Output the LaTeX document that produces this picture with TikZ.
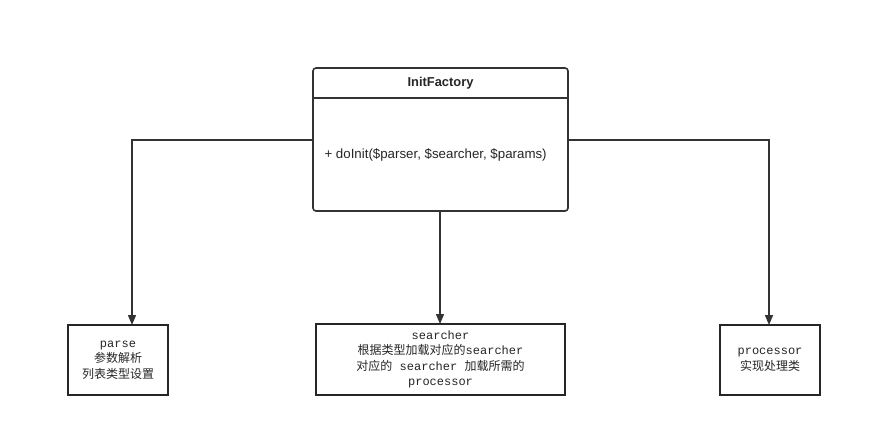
\documentclass[tikz,border=0pt]{standalone}
\usepackage{fontspec}
\setmainfont{Liberation Sans}
\setmonofont{Liberation Mono}
\newfontfamily\cjk{Noto Sans CJK SC}
\usetikzlibrary{arrows.meta}
\begin{document}
\begin{tikzpicture}[x=1pt,y=-1pt,
  line/.style={draw=black!80, line width=1.6pt},
  conn/.style={draw=black!80, line width=1.4pt, -{Triangle[length=10pt,width=8pt]}},
  plainbox/.style={draw=black!85, line width=1.6pt, fill=white, inner sep=0pt},
  boxtext/.style={align=center, font=\ttfamily\fontsize{12}{15.5}\selectfont, text=black!85}]
\useasboundingbox[fill=white] (0,0) rectangle (872,447);
% class box
\draw[line, rounded corners=3pt, fill=white] (313,68) rectangle (568,211);
\draw[line] (313,98) -- (568,98);
\node[font=\bfseries\fontsize{12.9}{15}\selectfont, text=black!85] (title) at (440.5,83) {InitFactory};
\node[anchor=west, font=\fontsize{13.3}{15}\selectfont, text=black!85] (method) at (321,155) {+ doInit(\$parser, \$searcher, \$params)};
\coordinate (cl) at (313,140);
\coordinate (cr) at (568,140);
\coordinate (cb) at (440,211);
% boxes
\node[plainbox, minimum width=100pt, minimum height=70pt] (parse) at (118,360) {};
\node[boxtext] (parsetxt) at (parse.center) {parse\\{\cjk 参数解析}\\{\cjk 列表类型设置}};
\node[plainbox, minimum width=249pt, minimum height=71pt] (search) at (440.5,359.5) {};
\node[boxtext] (searchtxt) at (search.center) {searcher\\{\cjk 根据类型加载对应的}searcher\\{\cjk 对应的} searcher {\cjk 加载所需的}\\processor};
\node[plainbox, minimum width=100pt, minimum height=70pt] (proc) at (770,360) {};
\node[boxtext] (proctxt) at (proc.center) {processor\\{\cjk 实现处理类}};
% connectors
\draw[conn] (cl) -- (132,140) -- (132,325);
\draw[conn] (cb) -- (440,324);
\draw[conn] (cr) -- (769,140) -- (769,325);
\end{tikzpicture}
\end{document}
